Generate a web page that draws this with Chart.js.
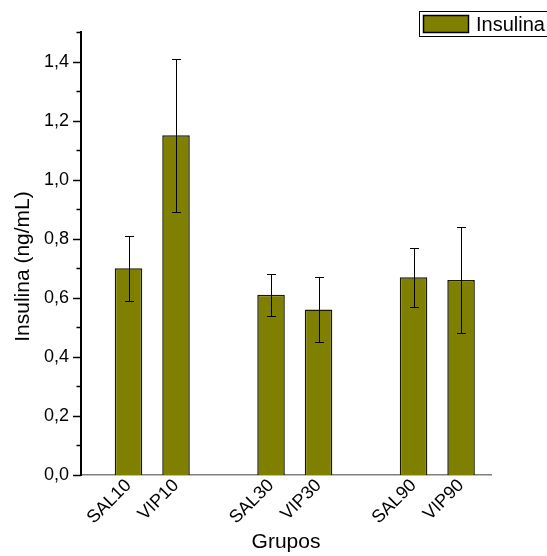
<!DOCTYPE html>
<html>
<head>
<meta charset="utf-8">
<script src="https://cdn.jsdelivr.net/npm/chart.js@4"></script>
<style>
  html, body { margin: 0; padding: 0; background: #fff; }
  canvas { display: block; }
</style>
</head>
<body>
<canvas id="chart" width="547" height="556"></canvas>
<script>
"use strict";

// ---------- Data ----------

const CATEGORIES = ["SAL10", "VIP10", "SAL30", "VIP30", "SAL90", "VIP90"];
const POSITIONS = [1, 2, 4, 5, 7, 8];          // slot on the x axis (gaps between groups)
const VALUES = [0.70, 1.15, 0.61, 0.56, 0.67, 0.66];
const ERRORS = [0.11, 0.26, 0.07, 0.11, 0.10, 0.18];
const Y_MAJOR = [0, 0.2, 0.4, 0.6, 0.8, 1.0, 1.2, 1.4];

const SERIES_LABEL = "Insulina";
const X_TITLE = "Grupos";
const Y_TITLE = "Insulina (ng/mL)";
const BAR_COLOR = "#808000";
const FONT = 'Arial, "Liberation Sans", sans-serif';

Chart.defaults.font.family = FONT;
Chart.defaults.color = "#000";

// ---------- Plugins ----------

// error bars, drawn from the data through the chart scales
const errorBars = {
    id: "errorBars",
    afterDatasetsDraw(chart) {
        const { ctx, scales: { x, y } } = chart;
        ctx.save();
        ctx.strokeStyle = "#000";
        ctx.lineWidth = 1;
        POSITIONS.forEach((pos, i) => {
            const px = Math.round(x.getPixelForValue(pos)) + 0.5;
            const top = Math.round(y.getPixelForValue(VALUES[i] + ERRORS[i])) + 0.5;
            const bot = Math.round(y.getPixelForValue(VALUES[i] - ERRORS[i])) + 0.5;
            ctx.beginPath();
            ctx.moveTo(px, top);
            ctx.lineTo(px, bot);
            ctx.moveTo(px - 4.5, top);
            ctx.lineTo(px + 4.5, top);
            ctx.moveTo(px - 4.5, bot);
            ctx.lineTo(px + 4.5, bot);
            ctx.stroke();
        });
        ctx.restore();
    },
};

// y axis tick marks (long on labelled values) and the y title,
// which sits a little below the middle of the axis in the original
const yAxisExtras = {
    id: "yAxisExtras",
    afterDraw(chart) {
        const { ctx, chartArea, scales: { y } } = chart;
        ctx.save();
        ctx.strokeStyle = "#000";
        ctx.lineWidth = 1.5;
        y.ticks.forEach((t) => {
            const py = Math.round(y.getPixelForValue(t.value)) + 0.5;
            ctx.beginPath();
            ctx.moveTo(y.right - (isMajor(t.value) ? 8 : 4.5), py);
            ctx.lineTo(y.right, py);
            ctx.stroke();
        });

        ctx.translate(23, (chartArea.top + chartArea.bottom) / 2 + 13);
        ctx.rotate(-Math.PI / 2);
        ctx.fillStyle = "#000";
        ctx.font = "21px " + FONT;
        ctx.textAlign = "center";
        ctx.textBaseline = "middle";
        ctx.fillText(Y_TITLE, 0, 0);
        ctx.restore();
    },
};

// framed legend in the top right corner
const boxLegend = {
    id: "boxLegend",
    afterDraw(chart) {
        const { ctx } = chart;
        const ds = chart.data.datasets[0];
        ctx.save();
        ctx.fillStyle = "#fff";
        ctx.fillRect(419, 11, 140, 26);
        ctx.strokeStyle = "#000";
        ctx.lineWidth = 1;
        ctx.strokeRect(419.5, 11.5, 140, 25);
        ctx.fillStyle = ds.backgroundColor;
        ctx.fillRect(423, 15, 46, 18);
        ctx.lineWidth = 1.5;
        ctx.strokeRect(423.5, 15.5, 45, 17);
        ctx.fillStyle = "#000";
        ctx.font = "20px " + FONT;
        ctx.textBaseline = "middle";
        ctx.fillText(ds.label, 476, 25);
        ctx.restore();
    },
};

// ---------- Helpers ----------

function isMajor(v) {
    return Y_MAJOR.some((m) => Math.abs(m - v) < 1e-6);
}

function formatDecimal(v) {
    return Number(v).toFixed(1).replace(".", ",");
}

// ---------- Chart ----------

new Chart(document.getElementById("chart"), {
    type: "bar",
    data: {
        datasets: [
            {
                label: SERIES_LABEL,
                data: POSITIONS.map((p, i) => ({ x: p, y: VALUES[i] })),
                backgroundColor: BAR_COLOR,
                borderColor: "#1a1a00",
                borderWidth: 1.5,
                categoryPercentage: 1,
                barPercentage: 0.58,
            },
        ],
    },
    options: {
        responsive: false,
        animation: false,
        events: [],
        layout: { padding: { left: 0, right: 56, top: 32, bottom: 0 } },
        plugins: {
            legend: { display: false },
            tooltip: { enabled: false },
        },
        scales: {
            x: {
                type: "linear",
                min: 0,
                max: 8.63,
                offset: false,
                grid: { display: false, drawTicks: false },
                border: { display: true, color: "#808080", width: 1.5 },
                afterBuildTicks: (scale) => {
                    scale.ticks = POSITIONS.map((v) => ({ value: v }));
                },
                afterFit: (scale) => { scale.height = 81; },
                ticks: {
                    autoSkip: false,
                    minRotation: 45,
                    maxRotation: 45,
                    padding: 0,
                    font: { size: 18 },
                    callback: (v) => {
                        const i = POSITIONS.indexOf(v);
                        return i >= 0 ? CATEGORIES[i] : "";
                    },
                },
                title: {
                    display: true,
                    text: X_TITLE,
                    font: { size: 21 },
                    padding: { top: 0, bottom: 1 },
                },
            },
            y: {
                min: 0,
                max: 1.5,
                grid: { display: false, drawTicks: false },
                border: { display: true, color: "#000", width: 2 },
                afterFit: (scale) => { scale.width = 81; },
                ticks: {
                    stepSize: 0.1,
                    padding: 12,
                    font: { size: 18 },
                    callback: (v) => (isMajor(v) ? formatDecimal(v) : ""),
                },
            },
        },
    },
    plugins: [errorBars, yAxisExtras, boxLegend],
});
</script>
</body>
</html>
